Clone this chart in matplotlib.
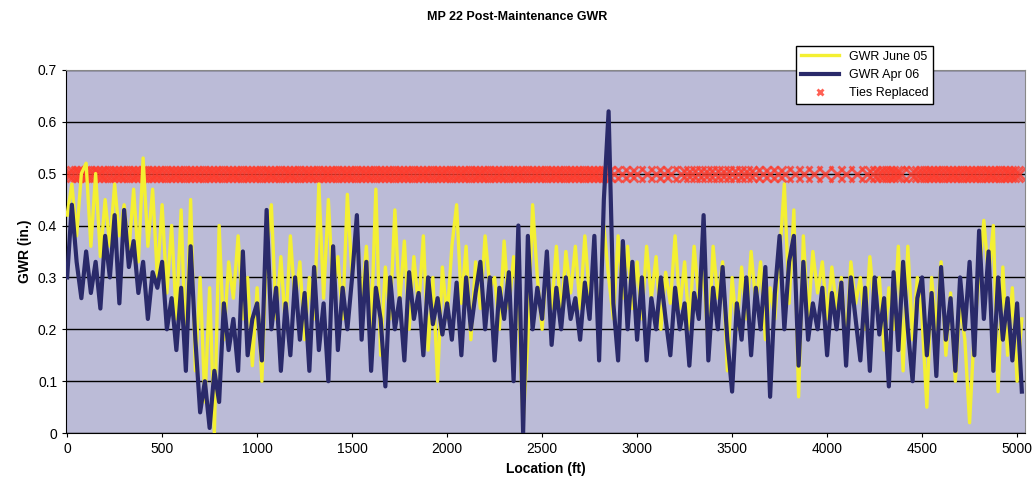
import numpy as np
import matplotlib
matplotlib.use("Agg")
import matplotlib.pyplot as plt

plt.rcParams['font.family'] = ['Liberation Sans', 'DejaVu Sans']

# location of each reading, ft (every 25 ft)
location = list(range(0, 5050, 25))

# GWR June 05 (yellow)
gwr_jun05 = [
    0.42, 0.48, 0.38, 0.50, 0.52, 0.36, 0.50, 0.34, 0.45, 0.36, 0.48, 0.38, 0.44, 0.35, 0.47, 0.33, 0.53, 0.36, 0.47, 0.30,
    0.44, 0.27, 0.40, 0.22, 0.43, 0.15, 0.45, 0.12, 0.30, 0.06, 0.28, 0.00, 0.40, 0.18, 0.33, 0.26, 0.38, 0.22, 0.30, 0.13,
    0.28, 0.10, 0.35, 0.44, 0.22, 0.34, 0.20, 0.38, 0.25, 0.33, 0.18, 0.30, 0.22, 0.48, 0.26, 0.45, 0.27, 0.34, 0.22, 0.46,
    0.30, 0.40, 0.25, 0.36, 0.20, 0.47, 0.15, 0.32, 0.22, 0.43, 0.25, 0.37, 0.20, 0.34, 0.24, 0.38, 0.16, 0.30, 0.10, 0.32,
    0.22, 0.36, 0.44, 0.25, 0.36, 0.18, 0.33, 0.24, 0.38, 0.28, 0.30, 0.20, 0.37, 0.24, 0.34, 0.25, 0.02, 0.18, 0.44, 0.30,
    0.20, 0.33, 0.24, 0.36, 0.22, 0.35, 0.27, 0.36, 0.24, 0.38, 0.26, 0.34, 0.20, 0.40, 0.30, 0.22, 0.38, 0.26, 0.36, 0.24,
    0.33, 0.22, 0.36, 0.26, 0.34, 0.20, 0.31, 0.25, 0.38, 0.24, 0.33, 0.20, 0.36, 0.26, 0.31, 0.16, 0.36, 0.26, 0.33, 0.12,
    0.30, 0.20, 0.32, 0.22, 0.35, 0.25, 0.33, 0.18, 0.28, 0.22, 0.34, 0.48, 0.25, 0.43, 0.07, 0.38, 0.22, 0.35, 0.27, 0.33,
    0.22, 0.32, 0.24, 0.30, 0.17, 0.33, 0.25, 0.30, 0.20, 0.34, 0.24, 0.30, 0.16, 0.28, 0.20, 0.36, 0.12, 0.36, 0.18, 0.30,
    0.22, 0.05, 0.30, 0.20, 0.33, 0.15, 0.27, 0.10, 0.25, 0.18, 0.02, 0.20, 0.30, 0.41, 0.30, 0.40, 0.08, 0.32, 0.15, 0.28,
    0.10, 0.22,
]

# GWR Apr 06 (navy)
gwr_apr06 = [
    0.30, 0.44, 0.33, 0.26, 0.35, 0.27, 0.33, 0.24, 0.38, 0.30, 0.42, 0.25, 0.43, 0.32, 0.37, 0.27, 0.33, 0.22, 0.31, 0.28,
    0.33, 0.20, 0.26, 0.16, 0.28, 0.12, 0.36, 0.18, 0.04, 0.10, 0.01, 0.12, 0.06, 0.25, 0.16, 0.22, 0.12, 0.35, 0.15, 0.22,
    0.25, 0.14, 0.43, 0.20, 0.28, 0.12, 0.25, 0.15, 0.30, 0.18, 0.27, 0.12, 0.32, 0.16, 0.25, 0.10, 0.36, 0.16, 0.28, 0.20,
    0.30, 0.42, 0.18, 0.33, 0.12, 0.28, 0.22, 0.09, 0.30, 0.20, 0.26, 0.14, 0.31, 0.22, 0.27, 0.15, 0.30, 0.21, 0.26, 0.19,
    0.25, 0.18, 0.29, 0.15, 0.30, 0.20, 0.27, 0.33, 0.20, 0.30, 0.14, 0.28, 0.22, 0.31, 0.10, 0.40, 0.00, 0.38, 0.20, 0.28,
    0.22, 0.35, 0.17, 0.28, 0.20, 0.30, 0.22, 0.26, 0.18, 0.29, 0.22, 0.38, 0.14, 0.45, 0.62, 0.25, 0.14, 0.37, 0.20, 0.33,
    0.18, 0.30, 0.14, 0.26, 0.20, 0.30, 0.22, 0.15, 0.28, 0.20, 0.25, 0.13, 0.27, 0.22, 0.42, 0.14, 0.28, 0.20, 0.32, 0.18,
    0.08, 0.25, 0.18, 0.30, 0.15, 0.28, 0.20, 0.32, 0.07, 0.27, 0.38, 0.20, 0.33, 0.38, 0.13, 0.33, 0.18, 0.25, 0.20, 0.28,
    0.15, 0.27, 0.20, 0.29, 0.13, 0.30, 0.22, 0.14, 0.28, 0.12, 0.30, 0.19, 0.26, 0.09, 0.31, 0.16, 0.33, 0.20, 0.10, 0.26,
    0.30, 0.15, 0.27, 0.11, 0.32, 0.18, 0.26, 0.12, 0.30, 0.20, 0.33, 0.15, 0.39, 0.22, 0.35, 0.12, 0.30, 0.18, 0.26, 0.14,
    0.25, 0.08,
]

# locations where ties were replaced, ft (plotted at GWR 0.5)
ties_replaced = [
    0, 20, 40, 60, 80, 100, 120, 140, 160, 180, 200, 220, 240, 260, 280, 300, 320, 340, 360, 380,
    400, 420, 440, 460, 480, 500, 520, 540, 560, 580, 600, 620, 640, 660, 680, 700, 720, 740, 760, 780,
    800, 820, 840, 860, 880, 900, 920, 940, 960, 980, 1000, 1020, 1040, 1060, 1080, 1100, 1120, 1140, 1160, 1180,
    1200, 1220, 1240, 1260, 1280, 1300, 1320, 1340, 1360, 1380, 1400, 1420, 1440, 1460, 1480, 1500, 1520, 1540, 1560, 1580,
    1600, 1620, 1640, 1660, 1680, 1700, 1720, 1740, 1760, 1780, 1800, 1820, 1840, 1860, 1880, 1900, 1920, 1940, 1960, 1980,
    2000, 2020, 2040, 2060, 2080, 2100, 2120, 2140, 2160, 2180, 2200, 2220, 2240, 2260, 2280, 2300, 2320, 2340, 2360, 2380,
    2400, 2420, 2440, 2460, 2480, 2500, 2520, 2540, 2560, 2580, 2600, 2620, 2640, 2660, 2680, 2700, 2720, 2740, 2760, 2780,
    2800, 2820, 2840, 2880, 2920, 2960, 3000, 3050, 3100, 3140, 3180, 3230, 3260, 3290, 3320, 3350, 3380, 3410, 3440, 3470,
    3500, 3530, 3560, 3590, 3620, 3660, 3700, 3740, 3780, 3830, 3880, 3930, 3990, 4050, 4100, 4160, 4210, 4240, 4270, 4290,
    4310, 4330, 4350, 4370, 4390, 4440, 4470, 4490, 4510, 4530, 4550, 4570, 4590, 4610, 4630, 4650, 4670, 4690, 4710, 4730,
    4750, 4770, 4790, 4810, 4830, 4850, 4870, 4890, 4910, 4930, 4950, 4970, 4990, 5010,
]

fig = plt.figure(figsize=(10.34, 4.95), dpi=100)
ax = fig.add_axes([0.064, 0.125, 0.927, 0.734])
ax.set_facecolor('#bbbbd7')

ax.plot(ties_replaced, [0.5] * len(ties_replaced), linestyle='none', marker='x',
        markersize=11, markeredgewidth=2, color='#ff3a2a', alpha=0.8, zorder=2, label='Ties Replaced')
ax.plot(location, gwr_jun05, color='#f4f032', lw=2.4, zorder=3, label='GWR June 05')
ax.plot(location, gwr_apr06, color='#2a2a6a', lw=3.0, zorder=4, label='GWR Apr 06')

ax.set_xlim(-5, 5040)
ax.set_ylim(0, 0.7)
ax.set_xticks(np.arange(0, 5001, 500))
ax.set_yticks(np.arange(0, 0.71, 0.1))
ax.set_yticklabels(['0', '0.1', '0.2', '0.3', '0.4', '0.5', '0.6', '0.7'])
ax.grid(axis='y', color='black', lw=1)
ax.set_axisbelow(True)
ax.tick_params(labelsize=10, length=3, direction='out')
for s in ['top', 'right']:
    ax.spines[s].set_color('#888888')
ax.spines['left'].set_color('black')
ax.spines['bottom'].set_color('black')

ax.set_xlabel('Location (ft)', fontsize=10, fontweight='bold')
ax.set_ylabel('GWR (in.)', fontsize=10, fontweight='bold')
fig.text(0.5, 0.966, 'MP 22 Post-Maintenance GWR', ha='center', va='center',
         fontsize=9, fontweight='bold')

h, l = ax.get_legend_handles_labels()
leg = fig.legend([h[1], h[2], h[0]], [l[1], l[2], l[0]], loc='upper left',
                 bbox_to_anchor=(0.764, 0.92), fontsize=9, fancybox=False,
                 edgecolor='black', framealpha=1, borderpad=0.4, labelspacing=0.5,
                 handlelength=3, markerscale=0.4)
leg.get_frame().set_linewidth(1)

fig.savefig('out.png', dpi=100)
